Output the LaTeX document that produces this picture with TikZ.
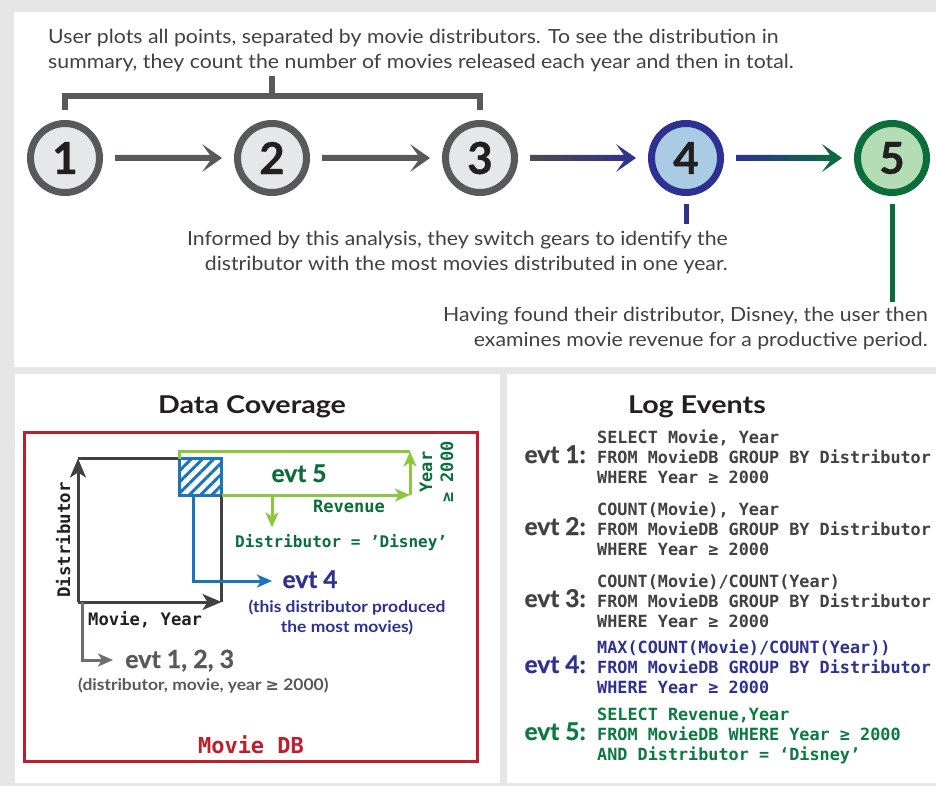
\documentclass[tikz,border=0pt]{standalone}
\usepackage{fontspec}
\setmainfont{Lato}
\setmonofont{DejaVu Sans Mono}
\newfontfamily\symfont{DejaVu Sans}
\newfontfamily\widefont{Lato}[FakeStretch=1.09]
\newfontfamily\titlefont{Lato}[FakeStretch=1.17]
\newfontfamily\heavyfont{Lato}[BoldFeatures={FakeBold=0.7}]
\usetikzlibrary{arrows.meta,calc,patterns.meta}

% palette
\definecolor{cPanelBg}{HTML}{E6E6E6}
\definecolor{cStep}{HTML}{58595B}
\definecolor{cStepFill}{HTML}{E6E7E8}
\definecolor{cNavy}{HTML}{2E3192}
\definecolor{cPaleBlue}{HTML}{A9CBE3}
\definecolor{cForest}{HTML}{0B6E3A}
\definecolor{cPaleGreen}{HTML}{B4DDB6}
\definecolor{cInk}{HTML}{231F20}
\definecolor{cBody}{HTML}{414042}
\definecolor{cRed}{HTML}{BE1E2D}
\definecolor{cSky}{HTML}{1C75BC}
\definecolor{cLime}{HTML}{8DC63F}
\definecolor{cAxis}{HTML}{414042}
\definecolor{cGrayLine}{HTML}{6D6E71}
\definecolor{cCodeGreen}{HTML}{0B7A3E}

\newcommand\fsz[2]{\fontsize{#1}{#2}\selectfont}

% shaded block arrow between two step circles
\newcommand\flowarrow[4]{%
  \path[left color=#3, right color=#4]
    ($(#1.east)+(12,-3)$) -- ($(#2.west)+(-24.1,-3)$)
    -- ($(#2.west)+(-32,-14)$) -- ($(#2.west)+(-12,0)$)
    -- ($(#2.west)+(-32,14)$) -- ($(#2.west)+(-24.1,3)$)
    -- ($(#1.east)+(12,3)$) -- cycle;}

\tikzset{
  stepnode/.style={circle, minimum size=69pt, inner sep=0pt, line width=7pt,
    font=\heavyfont\fsz{44}{44}\bfseries, text=cInk},
  desc/.style={inner sep=0pt, font=\widefont\fsz{19.5}{25}, text=cBody},
  paneltitle/.style={anchor=base, inner sep=0pt, font=\titlefont\fsz{24.5}{24.5}\bfseries, text=cInk},
  axisline/.style={cAxis, line width=3pt},
  axistip/.style={-{Stealth[length=19pt, width=16pt, inset=5pt]}},
  smalltip/.style={-{Stealth[length=15pt, width=13pt, inset=4pt]}},
  monolabel/.style={inner sep=0pt, font=\ttfamily\bfseries\fsz{17}{17}},
  evtlabel/.style={anchor=base east, inner sep=0pt, font=\heavyfont\fsz{24.5}{24.5}\bfseries},
  % multi-line nodes: the base anchor sits on the last line
  code/.style={anchor=base west, align=left, inner sep=0pt,
    font=\ttfamily\bfseries\fsz{16.8}{20.3}},
}

\begin{document}
\begin{tikzpicture}[x=1pt, y=-1pt]
\useasboundingbox (0,0) rectangle (936,786);

% panels
\fill[cPanelBg] (0,0) rectangle (936,786);
\fill[white] (14,12) rectangle (936,367);
\fill[white] (15,374) rectangle (500,783);
\fill[white] (507,374) rectangle (936,783);

% ---------------- workflow ----------------
\node[stepnode, draw=cStep, fill=cStepFill] (s1) at (65,158) {1};
\node[stepnode, draw=cStep, fill=cStepFill] (s2) at (272,158) {2};
\node[stepnode, draw=cStep, fill=cStepFill] (s3) at (480,158) {3};
\node[stepnode, draw=cNavy, fill=cPaleBlue] (s4) at (686,158) {4};
\node[stepnode, draw=cForest, fill=cPaleGreen] (s5) at (892,158) {5};

\flowarrow{s1}{s2}{cStep}{cStep}
\flowarrow{s2}{s3}{cStep}{cStep}
\flowarrow{s3}{s4}{cStep!85!black}{cNavy}
\flowarrow{s4}{s5}{cNavy}{cForest}

\node[desc, anchor=north west, align=left] (intro) at (48,29)
  {User plots all points, separated by movie distributors. To see the distribution in\\
   summary, they count the number of movies released each year and then in total.};

% bracket grouping steps 1-3
\draw[cStep, line width=6pt]
  ($(s1.north)+(0,-10)$) -- ($(s1.north)+(0,-24)$)
  -- ($(s3.north)+(0,-24)$) -- ($(s3.north)+(0,-10)$);
\draw[cStep, line width=6pt] ($(s2.north)+(0,-24)$) -- ($(s2.north)+(0,-44)$);

\node[desc, anchor=north east, align=right] (d4) at (728,231)
  {Informed by this analysis, they switch gears to identify the\\
   distributor with the most movies distributed in one year.};
\node[desc, anchor=north east, align=right] (d5) at (928,307)
  {Having found their distributor, Disney, the user then\\
   examines movie revenue for a productive period.};

\draw[cNavy, line width=5pt] ($(s4.south)+(0,8)$) -- ($(d4.north -| s4.south)+(0,-7)$);
\draw[cForest, line width=5pt] ($(s5.south)+(0,8)$) -- ($(d5.north -| s5.south)+(0,-5)$);

% ---------------- data coverage ----------------
\node[paneltitle] (dctitle) at (252,413) {Data Coverage};
\node[draw=cRed, line width=3pt, minimum width=453pt, minimum height=329pt,
      inner sep=0pt, outer sep=0pt] (db) at (251,597) {};
\node[anchor=base, inner sep=0pt, font=\ttfamily\bfseries\fsz{22}{22}, text=cRed]
  (dbname) at (251,753) {Movie DB};

\node[draw=cSky, line width=3pt, pattern={Lines[angle=45, distance=8pt, line width=3pt]},
      pattern color=cSky, minimum width=42pt, minimum height=36.5pt,
      inner sep=0pt, outer sep=0pt] (hatch) at (200.5,476.75) {};

\coordinate (O) at (78,602);
\draw[axisline, axistip] (O) -- (hatch.north west -| O);
\draw[axisline, axistip] (O) -- (O -| hatch.south east);
\draw[axisline] (hatch.north west -| O) -- (hatch.north west);
\draw[axisline] (hatch.south east) -- (O -| hatch.south east);

\node[monolabel, rotate=90, anchor=base, text=cInk, font=\ttfamily\bfseries\fsz{17.4}{17.4}]
  (ylab) at (70,540) {Distributor};
\node[monolabel, anchor=base west, text=cInk, font=\ttfamily\bfseries\fsz{17.2}{17.2}]
  (xlab) at (88,625) {Movie, Year};

% evt 5 region
\coordinate (gNE) at (410,451.5);
\coordinate (gSE) at (410,495);
\coordinate (disneyTip) at (272,527.5);
\draw[cLime, line width=3pt] (hatch.north west) -- (hatch.north west |- gNE) -- (gNE);
\draw[cLime, line width=3pt, smalltip] (hatch.south east) -- (gSE);
\draw[cLime, line width=3pt, smalltip] (gSE) -- (gNE);
\draw[cLime, line width=3pt, smalltip] (disneyTip |- gSE) -- (disneyTip);

\node[anchor=base, inner sep=0pt, font=\heavyfont\fsz{24.5}{24.5}\bfseries, text=cForest]
  (e5) at (299,482) {evt 5};
\node[monolabel, anchor=base, text=cForest] (rev) at (349,512) {Revenue};
\node[monolabel, rotate=90, anchor=base, text=cForest] (yr) at (432,472) {Year};
\node[monolabel, rotate=90, anchor=base, text=cForest] (yr2) at (453,472) {≥ 2000};
\node[monolabel, anchor=base west, text=cForest, font=\ttfamily\bfseries\fsz{16}{16}]
  (disney) at (235,547) {Distributor = ’Disney’};

% evt 4 region
\coordinate (e4tip) at (272,581);
\draw[cSky, line width=3pt, smalltip] ($(hatch.south)+(-7.5,0)$) |- (e4tip);
\node[anchor=base, inner sep=0pt, font=\heavyfont\fsz{24.5}{24.5}\bfseries, text=cNavy]
  (e4) at (310,588) {evt 4};
\node[anchor=base, align=center, inner sep=0pt, font=\widefont\fsz{16}{20}\bfseries, text=cNavy]
  (e4note) at (347,632) {(this distributor produced\\the most movies)};

% evt 1-3 region
\coordinate (e123tip) at (113,660);
\draw[cGrayLine, line width=3pt, smalltip] ($(O)+(4,0)$) |- (e123tip);
\node[anchor=base west, inner sep=0pt, font=\heavyfont\fsz{25}{25}\bfseries, text=cStep]
  (e123) at (125,668) {evt 1, 2, 3};
\node[anchor=base west, inner sep=0pt, font=\widefont\fsz{16}{16}\bfseries, text=cStep]
  (e123note) at (78,690) {(distributor, movie, year {\symfont\bfseries ≥} 2000)};

% ---------------- log events ----------------
\node[paneltitle] (lgtitle) at (697,413) {Log Events};

\node[evtlabel, text=cBody] (l1) at (586,463) {evt 1:};
\node[code, text=cBody] (q1) at (597,483.6)
  {SELECT Movie, Year\\FROM MovieDB GROUP BY Distributor\\WHERE Year ≥ 2000};

\node[evtlabel, text=cBody] (l2) at (586,535) {evt 2:};
\node[code, text=cBody] (q2) at (597,555.6)
  {COUNT(Movie), Year\\FROM MovieDB GROUP BY Distributor\\WHERE Year ≥ 2000};

\node[evtlabel, text=cBody] (l3) at (586,607) {evt 3:};
\node[code, text=cBody] (q3) at (597,627.6)
  {COUNT(Movie)/COUNT(Year)\\FROM MovieDB GROUP BY Distributor\\WHERE Year ≥ 2000};

\node[evtlabel, text=cNavy] (l4) at (586,673) {evt 4:};
\node[code, text=cNavy] (q4) at (597,693.6)
  {MAX(COUNT(Movie)/COUNT(Year))\\FROM MovieDB GROUP BY Distributor\\WHERE Year ≥ 2000};

\node[evtlabel, text=cCodeGreen] (l5) at (586,740) {evt 5:};
\node[code, text=cCodeGreen] (q5) at (597,760.6)
  {SELECT Revenue,Year\\FROM MovieDB WHERE Year ≥ 2000\\AND Distributor = ‘Disney’};
\end{tikzpicture}
\end{document}
